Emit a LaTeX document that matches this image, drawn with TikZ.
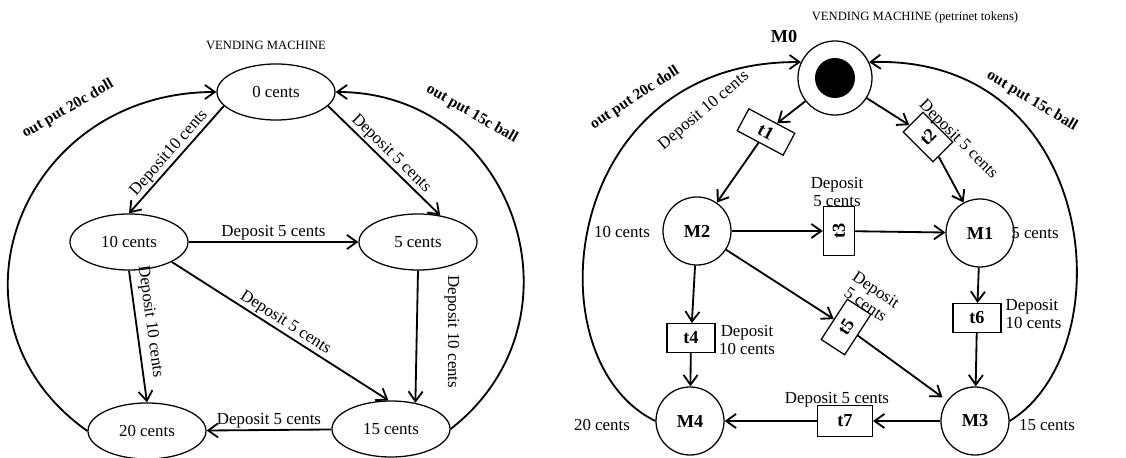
\documentclass[tikz,border=0pt]{standalone}
\usepackage{fontspec}
\setmainfont{Liberation Serif}
\usetikzlibrary{shapes.geometric,arrows.meta}

\tikzset{
	money/.style	= {ellipse, draw, line width=0.9pt, minimum width=2.95cm, minimum height=1.4cm, inner sep=0pt, font=\fontsize{12}{14}\selectfont},
	place/.style	= {circle, draw, line width=0.9pt, minimum size=1.7cm, inner sep=0pt, font=\fontsize{13}{15}\selectfont\bfseries},
	trans/.style	= {rectangle, draw, line width=0.9pt, minimum width=1.2cm, minimum height=0.72cm, inner sep=0pt, font=\fontsize{13}{15}\selectfont\bfseries},
	flow/.style	= {line width=1.3pt, -{Straight Barb[length=7pt,width=10pt]}},
	lbl/.style	= {font=\fontsize{12}{13}\selectfont, inner sep=1pt},
	outlbl/.style	= {font=\fontsize{11}{13}\selectfont\bfseries, inner sep=1pt},
	heading/.style	= {font=\fontsize{9}{11}\selectfont}
}

\begin{document}
\begin{tikzpicture}[x=0.025cm, y=-0.025cm]
	\useasboundingbox (0,0) rectangle (1126,458);

	% state machine
	\node (title1) at (266, 45)	[heading]	{VENDING MACHINE};
	\node (s0)  at (276,  92)	[money]	{0 cents};
	\node (s10) at (129, 242)	[money]	{10 cents};
	\node (s5)  at (418, 242)	[money]	{5 cents};
	\node (s20) at (147, 431)	[money]	{20 cents};
	\node (s15) at (391, 429)	[money]	{15 cents};
	\draw[flow] (s0.195) -- (s10.north) node[midway, sloped, above, lbl] {Deposit10 cents};
	\draw[flow] (s0.345) -- (s5.50) node[midway, sloped, above, lbl] {Deposit 5 cents};
	\draw[flow] (s10) -- (s5) node[midway, above, lbl] {Deposit 5 cents};
	\draw[flow] (s10.south) -- (s20.north) node[pos=0.4, sloped, above=3pt, lbl] {Deposit 10 cents};
	\draw[flow] (s10.335) -- (s15.95) node[midway, sloped, above, lbl] {Deposit 5 cents};
	\draw[flow] (s5.south) -- (s15.47);
	\draw[flow] (s15) -- (s20) node[midway, above, lbl] {Deposit 5 cents};
	\draw[flow] (s20.west) .. controls (-68,321) and (20,92) .. (s0.west);
	\draw[flow] (s15.east) .. controls (592,319) and (514,92) .. (s0.east);
	\node (d10r)  at (452, 332)	[lbl, rotate=-90]	{Deposit 10 cents};
	\node (doll1) at (68, 109)	[outlbl, rotate=30]	{out put 20c doll};
	\node (ball1) at (472, 114)	[outlbl, rotate=-30]	{out put 15c ball};

	% petri net
	\node (title2) at (915, 17)	[heading]	{VENDING MACHINE (petrinet tokens)};
	\node (M0) at (835,  78)	[place, minimum size=1.85cm]	{};
	\node (tok) at (835, 78)	[circle, fill=black, minimum size=1cm]	{};
	\node (M0lbl) at (784, 37)	[font=\fontsize{13}{15}\selectfont\bfseries]	{M0};
	\node (M2) at (697, 231)	[place]	{M2};
	\node (M1) at (980, 233)	[place]	{M1};
	\node (M4) at (690, 421)	[place]	{M4};
	\node (M3) at (975, 421)	[place]	{M3};
	\node (t1) at (766, 132)	[trans, rotate=-28, minimum width=1.3cm, minimum height=0.62cm]	{t1};
	\node (t2) at (928, 137)	[trans, rotate=45, minimum width=0.7cm, minimum height=1.05cm]	{t2};
	\node (t3) at (839, 231)	[trans, rotate=90, minimum width=1.22cm, minimum height=0.78cm]	{t3};
	\node (t4) at (691, 338)	[trans]	{t4};
	\node (t5) at (846, 327)	[trans, rotate=57, minimum height=0.7cm]	{t5};
	\node (t6) at (977, 318)	[trans]	{t6};
	\node (t7) at (845, 421)	[trans, minimum width=1.37cm, minimum height=0.78cm]	{t7};
	\draw[flow] (M0) -- (t1);
	\draw[flow] (t1) -- (M2);
	\draw[flow] (M0) -- (t2);
	\draw[flow] (t2) -- (M1);
	\draw[flow] (M2) -- (t3);
	\draw[flow] (t3) -- (M1);
	\draw[flow] (M2) -- (t4);
	\draw[flow] (t4) -- (M4);
	\draw[flow] (M2) -- (t5);
	\draw[flow, shorten >=4pt] (t5) -- (M3);
	\draw[flow] (M1) -- (t6);
	\draw[flow] (t6) -- (M3);
	\draw[flow] (M3) -- (t7);
	\draw[flow] (t7) -- (M4);
	\draw[flow] (M4.west) .. controls (530,360) and (560,60) .. (M0.155);
	\draw[flow] (M3.east) .. controls (1125,350) and (1100,55) .. (M0.25);
	\node (d1) at (704, 111)	[lbl, rotate=40]	{Deposit 10 cents};
	\node (d2) at (958, 140)	[lbl, rotate=-45]	{Deposit 5 cents};
	\node (d3) at (837, 192)	[lbl, align=center]	{Deposit\\5 cents};
	\node (d4) at (747, 340)	[lbl, align=center]	{Deposit\\10 cents};
	\node (d5) at (871, 297)	[lbl, align=center, rotate=-34]	{Deposit\\5 cents};
	\node (d6) at (1004, 314)	[lbl, align=left, anchor=west]	{Deposit\\10 cents};
	\node (d7) at (837, 400)	[lbl]	{Deposit 5 cents};
	\node (c10) at (622, 232)	[lbl]	{10 cents};
	\node (c5)  at (1035, 233)	[lbl]	{5 cents};
	\node (c20) at (602, 425)	[lbl]	{20 cents};
	\node (c15) at (1047, 425)	[lbl]	{15 cents};
	\node (doll2) at (635, 98)	[outlbl, rotate=33]	{out put 20c doll};
	\node (ball2) at (1032, 101)	[outlbl, rotate=-31]	{out put 15c ball};
\end{tikzpicture}
\end{document}
